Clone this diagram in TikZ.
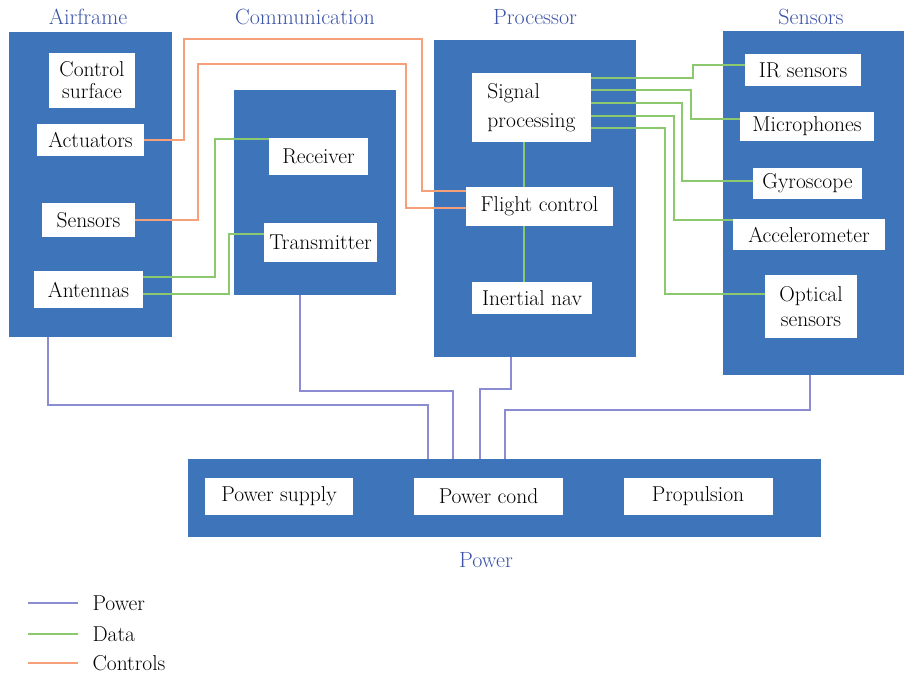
\documentclass[tikz,border=0pt]{standalone}
\definecolor{blockblue}{RGB}{62,116,185}
\definecolor{titleblue}{RGB}{59,83,168}
\definecolor{ctrlorange}{RGB}{245,160,120}
\definecolor{datagreen}{RGB}{140,200,110}
\definecolor{powerpurple}{RGB}{140,140,210}
\tikzset{
  groupbox/.style={fill=blockblue, inner sep=0pt},
  partbox/.style={fill=white, inner sep=0pt, align=center, font=\fontsize{21.5}{23}\selectfont},
  heading/.style={text=titleblue, font=\fontsize{22}{24}\selectfont},
  legendtext/.style={anchor=west, font=\fontsize{21.5}{23}\selectfont},
  ctrlline/.style={draw=ctrlorange, line width=1.3pt},
  dataline/.style={draw=datagreen, line width=1.3pt},
  powerline/.style={draw=powerpurple, line width=1.3pt}
}
\begin{document}
\begin{tikzpicture}[x=1pt, y=-1pt]
      \useasboundingbox (0,0) rectangle (904,676);

      \node[heading] (airframetitle) at (88,17){Airframe};
      \node[heading] (commtitle) at (305,17){Communication};
      \node[heading] (proctitle) at (535,17){Processor};
      \node[heading] (senstitle) at (811,17){Sensors};

      \node[groupbox, minimum width=163, minimum height=305] (airframe) at (90.5,184.5){};
        \node[partbox, minimum width=86, minimum height=55] (ctrlsurf) at (92,80.5){Control\\[-1pt]surface};
        \node[partbox, minimum width=107, minimum height=32] (actuators) at (90.5,140){Actuators};
        \node[partbox, minimum width=93, minimum height=34] (afsensors) at (88.5,220){Sensors};
        \node[partbox, minimum width=109, minimum height=37] (antennas) at (88.5,289.5){Antennas};

      \node[groupbox, minimum width=162, minimum height=205] (comm) at (315,192.5){};
        \node[partbox, minimum width=99, minimum height=37] (receiver) at (318.5,156.5){Receiver};
        \node[partbox, minimum width=113, minimum height=39] (transmitter) at (320.5,242.5){Transmitter};

      \node[groupbox, minimum width=202, minimum height=317] (proc) at (535,198.5){};
        \node[partbox, align=left, minimum width=119, minimum height=69] (sigproc) at (531.5,107.5){Signal\\[6pt]processing};
        \node[partbox, minimum width=147, minimum height=39] (flightctrl) at (539.5,206.5){Flight control};
        \node[partbox, minimum width=120, minimum height=32] (inertial) at (532,298){Inertial nav};

      \node[groupbox, minimum width=181, minimum height=344] (sens) at (813.5,203){};
        \node[partbox, minimum width=116, minimum height=32] (irsens) at (803,70){IR sensors};
        \node[partbox, minimum width=134, minimum height=29] (micro) at (807,126.5){Microphones};
        \node[partbox, minimum width=109, minimum height=31] (gyro) at (807.5,183.5){Gyroscope};
        \node[partbox, minimum width=152, minimum height=31] (accel) at (809,234.5){Accelerometer};
        \node[partbox, minimum width=92, minimum height=63] (optical) at (811,306.5){Optical\\[2pt]sensors};

      \node[groupbox, minimum width=633, minimum height=78] (power) at (504.5,498){};
        \node[partbox, minimum width=148, minimum height=37] (supply) at (279,496){Power supply};
        \node[partbox, minimum width=149, minimum height=37] (cond) at (488.5,496){Power cond};
        \node[partbox, minimum width=149, minimum height=37] (propulsion) at (698,496){Propulsion};
      \node[heading] (powertitle) at (486,560){Power};

      \draw[ctrlline] (actuators.east) -| (184,39) -| (422,191) -- (422,191 -| flightctrl.west);
      \draw[ctrlline] (afsensors.east) -| (198,64) -| (406,208) -- (406,208 -| flightctrl.west);

      \draw[dataline] (antennas.east |- 0,277) -| (215,139) -- (receiver.west |- 0,139);
      \draw[dataline] (antennas.east |- 0,294) -| (229,234) -- (transmitter.west |- 0,234);
      \draw[dataline] (sigproc.south -| 524,0) -- (flightctrl.north -| 524,0);
      \draw[dataline] (flightctrl.south -| 524,0) -- (inertial.north -| 524,0);
      \draw[dataline] (sigproc.east |- 0,78) -| (693,65) -- (irsens.west |- 0,65);
      \draw[dataline] (sigproc.east |- 0,90) -| (691,119) -- (micro.west |- 0,119);
      \draw[dataline] (sigproc.east |- 0,103) -| (682,181) -- (gyro.west |- 0,181);
      \draw[dataline] (sigproc.east |- 0,116) -| (674,220) -- (accel.west |- 0,220);
      \draw[dataline] (sigproc.east |- 0,128) -| (665,294) -- (optical.west |- 0,294);

      \draw[powerline] (airframe.south -| 48,0) |- (428,405) -- (428,0 |- power.north);
      \draw[powerline] (comm.south -| 300,0) |- (453,391) -- (453,0 |- power.north);
      \draw[powerline] (proc.south -| 511,0) |- (480,389) -- (480,0 |- power.north);
      \draw[powerline] (sens.south -| 810,0) |- (505,410) -- (505,0 |- power.north);

      \node[legendtext] (legpower) at (89,603){Power};
      \draw[powerline] (28,603) -- (78,603);
      \node[legendtext] (legdata) at (89,634){Data};
      \draw[dataline] (28,634) -- (78,634);
      \node[legendtext] (legctrl) at (89,663){Controls};
      \draw[ctrlline] (28,663) -- (78,663);

    \end{tikzpicture}
\end{document}
